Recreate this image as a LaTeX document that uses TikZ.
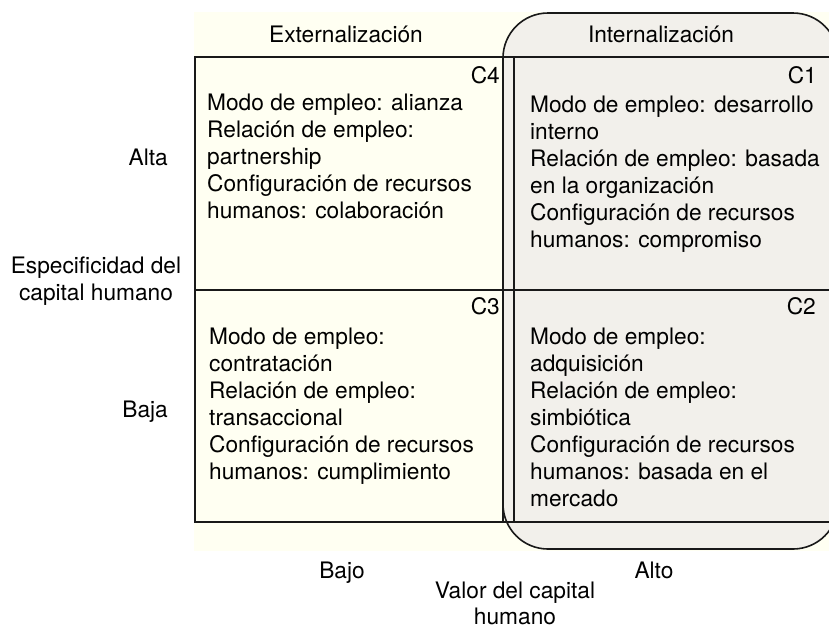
\documentclass[tikz,border=0pt]{standalone}
\usepackage{fontspec}
\setmainfont{TeX Gyre Heros}
\definecolor{cream}{RGB}{255,255,242}
\definecolor{panel}{RGB}{242,240,235}
\definecolor{ink}{RGB}{25,25,25}
\begin{document}
\begin{tikzpicture}[x=1pt,y=-1pt,
  txt/.style={inner sep=0pt, font=\fontsize{22.7}{27}\selectfont},
  gridline/.style={draw=ink, line width=2pt},
  panelbox/.style={draw=ink, line width=1.6pt, fill=panel, rounded corners=45pt}]
\useasboundingbox (0,0) rectangle (829,630);
\begin{scope}
\clip (0,0) rectangle (829,630);
\fill[cream] (194,12) rectangle (829,551);
\path[panelbox] (503,13) rectangle (838,549);
\coordinate (tl) at (195,57);
\coordinate (bl) at (195,522);
\coordinate (ml) at (195,290);
\coordinate (tr) at (829,57);
\coordinate (mr) at (829,290);
\coordinate (br) at (829,522);
\coordinate (v1t) at (503,57);
\coordinate (v1b) at (503,522);
\coordinate (v2t) at (514,57);
\coordinate (v2b) at (514,522);
\draw[gridline] (tr) -- (tl) -- (bl) -- (br);
\draw[gridline] (ml) -- (mr);
\draw[gridline] (v1t) -- (v1b);
\draw[gridline] (v2t) -- (v2b);
\end{scope}
\node[txt, anchor=base] (ext) at (346,42) {Externalización};
\node[txt, anchor=base] (int) at (661,42) {Internalización};
\node[txt, anchor=base east] (c4) at (500,83) {C4};
\node[txt, anchor=base east] (c1) at (817,83) {C1};
\node[txt, anchor=base east] (c3) at (500,314) {C3};
\node[txt, anchor=base east] (c2) at (816,314) {C2};
\node[txt, anchor=base west] (t4) at (207,110) {\begin{tabular}[t]{@{}l@{}}Modo de empleo: alianza\\Relación de empleo:\\partnership\\Configuración de recursos\\humanos: colaboración\end{tabular}};
\node[txt, anchor=base west] (t1) at (530,112) {\begin{tabular}[t]{@{}l@{}}Modo de empleo: desarrollo\\interno\\Relación de empleo: basada\\en la organización\\Configuración de recursos\\humanos: compromiso\end{tabular}};
\node[txt, anchor=base west] (t3) at (209,344) {\begin{tabular}[t]{@{}l@{}}Modo de empleo:\\contratación\\Relación de empleo:\\transaccional\\Configuración de recursos\\humanos: cumplimiento\end{tabular}};
\node[txt, anchor=base west] (t2) at (530,344) {\begin{tabular}[t]{@{}l@{}}Modo de empleo:\\adquisición\\Relación de empleo:\\simbiótica\\Configuración de recursos\\humanos: basada en el\\mercado\end{tabular}};
\node[txt, anchor=base east] (alta) at (168,165) {Alta};
\node[txt, anchor=base east] (baja) at (168,417) {Baja};
\node[txt, anchor=base] (esp) at (96,273) {\begin{tabular}[t]{@{}c@{}}Especificidad del\\capital humano\end{tabular}};
\node[txt, anchor=base] (bajo) at (342,578) {Bajo};
\node[txt, anchor=base] (alto) at (654,578) {Alto};
\node[txt, anchor=north, font=\fontsize{22.7}{26}\selectfont, align=center] (valor) at (515,582) {Valor del capital\\humano};
\end{tikzpicture}
\end{document}
